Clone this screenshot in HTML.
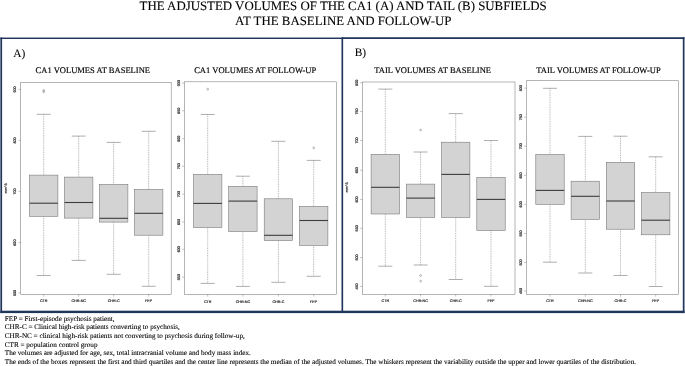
<!DOCTYPE html>
<html><head><meta charset="utf-8"><title>Adjusted volumes</title>
<style>html,body{margin:0;padding:0;background:#fff}svg{display:block}</style></head>
<body>
<svg width="685" height="366" viewBox="0 0 685 366">
<rect width="685" height="366" fill="#fff"/>
<g fill="#1f355b">
<rect x="0.35" y="37.55" width="342.5" height="1.45"/>
<rect x="342" y="37.25" width="342.5" height="1.75"/>
<rect x="0.35" y="37.5" width="1.75" height="275.6"/>
<rect x="341.5" y="37.3" width="1.65" height="275.6"/>
<rect x="682.8" y="37.25" width="1.7" height="275.85"/>
<rect x="0.35" y="310.7" width="684.15" height="2.4"/>
</g>
<g font-family="'Liberation Serif', serif" fill="#000" stroke="#000" stroke-width="0.2" text-rendering="geometricPrecision">
<text x="139.6" y="9.75" font-size="12.86" stroke-width="0.1">THE ADJUSTED VOLUMES OF THE CA1 (A) AND TAIL (B) SUBFIELDS</text>
<text x="235.0" y="24.9" font-size="12.9" stroke-width="0.1">AT THE BASELINE AND FOLLOW-UP</text>
<text x="13.3" y="56.9" font-size="11.4" stroke-width="0.04">A)</text>
<text x="354.7" y="56.2" font-size="11.4" stroke-width="0.04">B)</text>
<text x="92.8" y="73.05" font-size="8.53" stroke-width="0.16" text-anchor="middle">CA1 VOLUMES AT BASELINE</text>
<text x="255.2" y="73.05" font-size="8.53" stroke-width="0.16" text-anchor="middle">CA1 VOLUMES AT FOLLOW-UP</text>
<text x="432.7" y="73.05" font-size="8.53" stroke-width="0.16" text-anchor="middle">TAIL VOLUMES AT BASELINE</text>
<text x="598.5" y="73.05" font-size="8.53" stroke-width="0.16" text-anchor="middle">TAIL VOLUMES AT FOLLOW-UP</text>
<text x="4.8" y="320.6" font-size="7.175" stroke-width="0.1">FEP = First-episode psychosis patient,</text>
<text x="4.8" y="329.3" font-size="7.175" stroke-width="0.1">CHR-C = Clinical high-risk patients converting to psychosis,</text>
<text x="4.8" y="338.0" font-size="7.175" stroke-width="0.1">CHR-NC = clinical high-risk patients not converting to psychosis during follow-up,</text>
<text x="4.8" y="346.6" font-size="7.175" stroke-width="0.1">CTR = population control group</text>
<text x="4.8" y="355.3" font-size="7.175" stroke-width="0.1">The volumes are adjusted for age, sex, total intracranial volume and body mass index.</text>
<text x="4.8" y="364.0" font-size="7.175" stroke-width="0.1">The ends of the boxes represent the first and third quartiles and the center line represents the median of the adjusted volumes. The whiskers represent the variability outside the upper and lower quartiles of the distribution.</text>
</g>
<g>
<path d="M43.7 114.3V175.1M43.7 216.3V275.5" stroke="#777" stroke-width="0.6" stroke-dasharray="0.86 0.86" fill="none"/>
<path d="M36.7 114.3H50.7M36.7 275.5H50.7" stroke="#777" stroke-width="0.6" fill="none"/>
<rect x="29.5" y="175.1" width="28.4" height="41.2" fill="#d3d3d3" stroke="#707070" stroke-width="0.55"/>
<path d="M29.5 203.2H57.9" stroke="#3c3c3c" stroke-width="1.1"/>
<circle cx="43.7" cy="90.4" r="0.9" fill="none" stroke="#666" stroke-width="0.45"/>
<circle cx="43.7" cy="91.9" r="0.9" fill="none" stroke="#666" stroke-width="0.45"/>
<path d="M78.7 136.1V177.1M78.7 218.1V260.4" stroke="#777" stroke-width="0.6" stroke-dasharray="0.86 0.86" fill="none"/>
<path d="M71.7 136.1H85.7M71.7 260.4H85.7" stroke="#777" stroke-width="0.6" fill="none"/>
<rect x="64.5" y="177.1" width="28.4" height="41.0" fill="#d3d3d3" stroke="#707070" stroke-width="0.55"/>
<path d="M64.5 202.5H92.9" stroke="#3c3c3c" stroke-width="1.1"/>
<path d="M113.65 142.4V184.4M113.65 222.1V274.3" stroke="#777" stroke-width="0.6" stroke-dasharray="0.86 0.86" fill="none"/>
<path d="M106.7 142.4H120.7M106.7 274.3H120.7" stroke="#777" stroke-width="0.6" fill="none"/>
<rect x="99.5" y="184.4" width="28.4" height="37.7" fill="#d3d3d3" stroke="#707070" stroke-width="0.55"/>
<path d="M99.5 218.3H127.9" stroke="#3c3c3c" stroke-width="1.1"/>
<path d="M148.7 131.3V189.4M148.7 235.2V286.3" stroke="#777" stroke-width="0.6" stroke-dasharray="0.86 0.86" fill="none"/>
<path d="M141.7 131.3H155.7M141.7 286.3H155.7" stroke="#777" stroke-width="0.6" fill="none"/>
<rect x="134.5" y="189.4" width="28.4" height="45.8" fill="#d3d3d3" stroke="#707070" stroke-width="0.55"/>
<path d="M134.5 213.3H162.9" stroke="#3c3c3c" stroke-width="1.1"/>
<rect x="20.7" y="82.4" width="150.5" height="212.0" fill="none" stroke="#848484" stroke-width="0.6"/>
<path d="M18.5 89.4H20.7M18.5 140.4H20.7M18.5 191.4H20.7M18.5 242.6H20.7M18.5 292.9H20.7M43.7 294.4V296.6M78.7 294.4V296.6M113.65 294.4V296.6M148.7 294.4V296.6" stroke="#848484" stroke-width="0.5" fill="none"/>
<g font-family="'Liberation Sans', sans-serif" font-size="3.7" fill="#2a2a2a" stroke="#2a2a2a" stroke-width="0.18" text-anchor="middle" text-rendering="geometricPrecision">
<text transform="translate(15.9 89.4) rotate(-90)">900</text>
<text transform="translate(15.9 140.4) rotate(-90)">800</text>
<text transform="translate(15.9 191.4) rotate(-90)">700</text>
<text transform="translate(15.9 242.6) rotate(-90)">600</text>
<text transform="translate(15.9 292.9) rotate(-90)">500</text>
<text x="43.7" y="302.4">CTR</text>
<text x="78.7" y="302.4">CHR-NC</text>
<text x="113.65" y="302.4">CHR-C</text>
<text x="148.7" y="302.4">FEP</text>
<text transform="translate(7.2 188.5) rotate(-90)">mm^3</text>
</g></g>
<g>
<path d="M207.7 114.45V174.4M207.7 227.5V283.4" stroke="#777" stroke-width="0.6" stroke-dasharray="0.86 0.86" fill="none"/>
<path d="M200.7 114.45H214.7M200.7 283.4H214.7" stroke="#777" stroke-width="0.6" fill="none"/>
<rect x="193.5" y="174.4" width="28.4" height="53.1" fill="#d3d3d3" stroke="#707070" stroke-width="0.55"/>
<path d="M193.5 203.4H221.9" stroke="#3c3c3c" stroke-width="1.1"/>
<circle cx="207.7" cy="89.2" r="0.9" fill="none" stroke="#666" stroke-width="0.45"/>
<path d="M242.9 176.2V186.3M242.9 231.6V286.4" stroke="#777" stroke-width="0.6" stroke-dasharray="0.86 0.86" fill="none"/>
<path d="M235.9 176.2H249.9M235.9 286.4H249.9" stroke="#777" stroke-width="0.6" fill="none"/>
<rect x="228.7" y="186.3" width="28.4" height="45.3" fill="#d3d3d3" stroke="#707070" stroke-width="0.55"/>
<path d="M228.7 201.1H257.1" stroke="#3c3c3c" stroke-width="1.1"/>
<path d="M278.4 141.3V198.8M278.4 240.6V282.3" stroke="#777" stroke-width="0.6" stroke-dasharray="0.86 0.86" fill="none"/>
<path d="M271.4 141.3H285.4M271.4 282.3H285.4" stroke="#777" stroke-width="0.6" fill="none"/>
<rect x="264.2" y="198.8" width="28.4" height="41.8" fill="#d3d3d3" stroke="#707070" stroke-width="0.55"/>
<path d="M264.2 235.3H292.6" stroke="#3c3c3c" stroke-width="1.1"/>
<path d="M313.7 160.4V206.4M313.7 245.4V276.3" stroke="#777" stroke-width="0.6" stroke-dasharray="0.86 0.86" fill="none"/>
<path d="M306.7 160.4H320.7M306.7 276.3H320.7" stroke="#777" stroke-width="0.6" fill="none"/>
<rect x="299.5" y="206.4" width="28.4" height="39.0" fill="#d3d3d3" stroke="#707070" stroke-width="0.55"/>
<path d="M299.5 220.5H327.9" stroke="#3c3c3c" stroke-width="1.1"/>
<circle cx="313.7" cy="147.8" r="0.9" fill="none" stroke="#666" stroke-width="0.45"/>
<rect x="184.3" y="81.8" width="152.2" height="212.6" fill="none" stroke="#848484" stroke-width="0.6"/>
<path d="M182.1 83.1H184.3M182.1 110.8H184.3M182.1 138.7H184.3M182.1 166.2H184.3M182.1 194.1H184.3M182.1 222.0H184.3M182.1 249.2H184.3M182.1 277.1H184.3M207.7 294.4V296.6M242.9 294.4V296.6M278.4 294.4V296.6M313.7 294.4V296.6" stroke="#848484" stroke-width="0.5" fill="none"/>
<g font-family="'Liberation Sans', sans-serif" font-size="3.7" fill="#2a2a2a" stroke="#2a2a2a" stroke-width="0.18" text-anchor="middle" text-rendering="geometricPrecision">
<text transform="translate(179.5 83.1) rotate(-90)">900</text>
<text transform="translate(179.5 110.8) rotate(-90)">850</text>
<text transform="translate(179.5 138.7) rotate(-90)">800</text>
<text transform="translate(179.5 166.2) rotate(-90)">750</text>
<text transform="translate(179.5 194.1) rotate(-90)">700</text>
<text transform="translate(179.5 222.0) rotate(-90)">650</text>
<text transform="translate(179.5 249.2) rotate(-90)">600</text>
<text transform="translate(179.5 277.1) rotate(-90)">550</text>
<text x="207.7" y="302.7">CTR</text>
<text x="242.9" y="302.7">CHR-NC</text>
<text x="278.4" y="302.7">CHR-C</text>
<text x="313.7" y="302.7">FEP</text>
</g></g>
<g>
<path d="M385.3 89.1V154.3M385.3 214.0V266.2" stroke="#777" stroke-width="0.6" stroke-dasharray="0.86 0.86" fill="none"/>
<path d="M378.3 89.1H392.3M378.3 266.2H392.3" stroke="#777" stroke-width="0.6" fill="none"/>
<rect x="371.1" y="154.3" width="28.4" height="59.7" fill="#d3d3d3" stroke="#707070" stroke-width="0.55"/>
<path d="M371.1 187.3H399.5" stroke="#3c3c3c" stroke-width="1.1"/>
<path d="M420.6 152.0V184.1M420.6 217.5V265.0" stroke="#777" stroke-width="0.6" stroke-dasharray="0.86 0.86" fill="none"/>
<path d="M413.6 152.0H427.6M413.6 265.0H427.6" stroke="#777" stroke-width="0.6" fill="none"/>
<rect x="406.4" y="184.1" width="28.4" height="33.4" fill="#d3d3d3" stroke="#707070" stroke-width="0.55"/>
<path d="M406.4 198.1H434.8" stroke="#3c3c3c" stroke-width="1.1"/>
<circle cx="420.6" cy="130.0" r="0.9" fill="none" stroke="#666" stroke-width="0.45"/>
<circle cx="420.6" cy="275.5" r="0.9" fill="none" stroke="#666" stroke-width="0.45"/>
<circle cx="420.6" cy="281.1" r="0.9" fill="none" stroke="#666" stroke-width="0.45"/>
<path d="M455.7 113.6V142.2M455.7 217.5V279.5" stroke="#777" stroke-width="0.6" stroke-dasharray="0.86 0.86" fill="none"/>
<path d="M448.7 113.6H462.7M448.7 279.5H462.7" stroke="#777" stroke-width="0.6" fill="none"/>
<rect x="441.5" y="142.2" width="28.4" height="75.3" fill="#d3d3d3" stroke="#707070" stroke-width="0.55"/>
<path d="M441.5 174.4H469.9" stroke="#3c3c3c" stroke-width="1.1"/>
<path d="M491.0 140.5V177.4M491.0 230.5V286.3" stroke="#777" stroke-width="0.6" stroke-dasharray="0.86 0.86" fill="none"/>
<path d="M484.0 140.5H498.0M484.0 286.3H498.0" stroke="#777" stroke-width="0.6" fill="none"/>
<rect x="476.8" y="177.4" width="28.4" height="53.1" fill="#d3d3d3" stroke="#707070" stroke-width="0.55"/>
<path d="M476.8 199.4H505.2" stroke="#3c3c3c" stroke-width="1.1"/>
<rect x="362.4" y="82.0" width="152.6" height="212.3" fill="none" stroke="#848484" stroke-width="0.6"/>
<path d="M360.2 82.8H362.4M360.2 111.5H362.4M360.2 140.5H362.4M360.2 170.2H362.4M360.2 199.4H362.4M360.2 228.3H362.4M360.2 257.5H362.4M360.2 286.5H362.4M385.3 294.3V296.5M420.6 294.3V296.5M455.7 294.3V296.5M491.0 294.3V296.5" stroke="#848484" stroke-width="0.5" fill="none"/>
<g font-family="'Liberation Sans', sans-serif" font-size="3.7" fill="#2a2a2a" stroke="#2a2a2a" stroke-width="0.18" text-anchor="middle" text-rendering="geometricPrecision">
<text transform="translate(357.6 82.8) rotate(-90)">800</text>
<text transform="translate(357.6 111.5) rotate(-90)">750</text>
<text transform="translate(357.6 140.5) rotate(-90)">700</text>
<text transform="translate(357.6 170.2) rotate(-90)">650</text>
<text transform="translate(357.6 199.4) rotate(-90)">600</text>
<text transform="translate(357.6 228.3) rotate(-90)">550</text>
<text transform="translate(357.6 257.5) rotate(-90)">500</text>
<text transform="translate(357.6 286.5) rotate(-90)">450</text>
<text x="385.3" y="302.4">CTR</text>
<text x="420.6" y="302.4">CHR-NC</text>
<text x="455.7" y="302.4">CHR-C</text>
<text x="491.0" y="302.4">FEP</text>
<text transform="translate(348.0 187.5) rotate(-90)">mm^3</text>
</g></g>
<g>
<path d="M550.0 88.3V154.5M550.0 204.3V262.2" stroke="#777" stroke-width="0.6" stroke-dasharray="0.86 0.86" fill="none"/>
<path d="M543.0 88.3H557.0M543.0 262.2H557.0" stroke="#777" stroke-width="0.6" fill="none"/>
<rect x="535.8" y="154.5" width="28.4" height="49.8" fill="#d3d3d3" stroke="#707070" stroke-width="0.55"/>
<path d="M535.8 190.4H564.2" stroke="#3c3c3c" stroke-width="1.1"/>
<path d="M585.3 136.4V181.2M585.3 219.4V273.0" stroke="#777" stroke-width="0.6" stroke-dasharray="0.86 0.86" fill="none"/>
<path d="M578.3 136.4H592.3M578.3 273.0H592.3" stroke="#777" stroke-width="0.6" fill="none"/>
<rect x="571.1" y="181.2" width="28.4" height="38.2" fill="#d3d3d3" stroke="#707070" stroke-width="0.55"/>
<path d="M571.1 196.3H599.5" stroke="#3c3c3c" stroke-width="1.1"/>
<path d="M620.5 136.2V162.3M620.5 229.2V275.5" stroke="#777" stroke-width="0.6" stroke-dasharray="0.86 0.86" fill="none"/>
<path d="M613.5 136.2H627.5M613.5 275.5H627.5" stroke="#777" stroke-width="0.6" fill="none"/>
<rect x="606.3" y="162.3" width="28.4" height="66.9" fill="#d3d3d3" stroke="#707070" stroke-width="0.55"/>
<path d="M606.3 201.0H634.7" stroke="#3c3c3c" stroke-width="1.1"/>
<path d="M655.7 156.8V192.5M655.7 234.8V286.5" stroke="#777" stroke-width="0.6" stroke-dasharray="0.86 0.86" fill="none"/>
<path d="M648.7 156.8H662.7M648.7 286.5H662.7" stroke="#777" stroke-width="0.6" fill="none"/>
<rect x="641.5" y="192.5" width="28.4" height="42.3" fill="#d3d3d3" stroke="#707070" stroke-width="0.55"/>
<path d="M641.5 220.2H669.9" stroke="#3c3c3c" stroke-width="1.1"/>
<rect x="526.3" y="80.7" width="152.4" height="213.8" fill="none" stroke="#848484" stroke-width="0.6"/>
<path d="M524.1 88.1H526.3M524.1 117.2H526.3M524.1 146.2H526.3M524.1 175.4H526.3M524.1 204.3H526.3M524.1 233.5H526.3M524.1 262.4H526.3M524.1 291.0H526.3M550.0 294.5V296.7M585.3 294.5V296.7M620.5 294.5V296.7M655.7 294.5V296.7" stroke="#848484" stroke-width="0.5" fill="none"/>
<g font-family="'Liberation Sans', sans-serif" font-size="3.7" fill="#2a2a2a" stroke="#2a2a2a" stroke-width="0.18" text-anchor="middle" text-rendering="geometricPrecision">
<text transform="translate(521.5 88.1) rotate(-90)">800</text>
<text transform="translate(521.5 117.2) rotate(-90)">750</text>
<text transform="translate(521.5 146.2) rotate(-90)">700</text>
<text transform="translate(521.5 175.4) rotate(-90)">650</text>
<text transform="translate(521.5 204.3) rotate(-90)">600</text>
<text transform="translate(521.5 233.5) rotate(-90)">550</text>
<text transform="translate(521.5 262.4) rotate(-90)">500</text>
<text transform="translate(521.5 291.0) rotate(-90)">450</text>
<text x="550.0" y="302.4">CTR</text>
<text x="585.3" y="302.4">CHR-NC</text>
<text x="620.5" y="302.4">CHR-C</text>
<text x="655.7" y="302.4">FEP</text>
</g></g>
</svg>
</body></html>
